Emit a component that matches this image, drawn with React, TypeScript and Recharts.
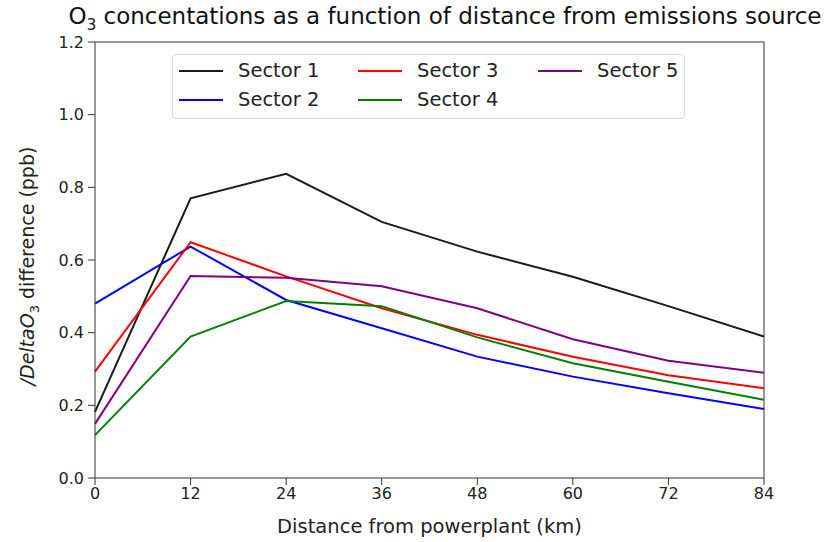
import React from "react";
import { LineChart, Line, XAxis, YAxis, Legend, Label, ReferenceLine } from "recharts";

const distances = [0, 12, 24, 36, 48, 60, 72, 84];
const sector1 = [0.182, 0.77, 0.837, 0.705, 0.623, 0.554, 0.473, 0.389];
const sector2 = [0.48, 0.637, 0.49, 0.412, 0.334, 0.279, 0.233, 0.19];
const sector3 = [0.293, 0.649, 0.555, 0.467, 0.394, 0.334, 0.283, 0.247];
const sector4 = [0.118, 0.389, 0.487, 0.473, 0.387, 0.316, 0.265, 0.215];
const sector5 = [0.149, 0.556, 0.551, 0.528, 0.467, 0.382, 0.323, 0.29];

const seriesNames = ["Sector 1", "Sector 2", "Sector 3", "Sector 4", "Sector 5"];
const seriesColors = ["#1a1a1a", "#0000ff", "#ff0000", "#008000", "#800080"];
const xTicks = [0, 12, 24, 36, 48, 60, 72, 84];
const yTicks = [0, 0.2, 0.4, 0.6, 0.8, 1.0, 1.2];

const allSeries = [sector1, sector2, sector3, sector4, sector5];
const rows = distances.map((d, i) => {
  const row: Record<string, number> = { x: d };
  seriesNames.forEach((name, j) => {
    row[name] = allSeries[j][i];
  });
  return row;
});

const FONT = "'DejaVu Sans', sans-serif";
const AXIS = "#333";

function SectorLegend() {
  return (
    <div
      style={{
        border: "1px solid #d6d6d6",
        borderRadius: 4,
        background: "#fff",
        boxSizing: "border-box",
        width: 513,
        height: 65,
        padding: "1px 0 0 6px",
        display: "grid",
        gridTemplateRows: "repeat(2, 29px)",
        gridTemplateColumns: "179px 180px 150px",
        gridAutoFlow: "column",
        fontFamily: FONT,
        fontSize: 19.5,
        color: "#222",
      }}
    >
      {seriesNames.map((name, i) => (
        <div key={name} style={{ display: "flex", alignItems: "center", whiteSpace: "nowrap" }}>
          <div style={{ width: 44, height: 2, background: seriesColors[i], marginRight: 15 }} />
          <span>{name}</span>
        </div>
      ))}
    </div>
  );
}

function YLabel(props: any) {
  const vb = props.viewBox || {};
  const cx = 34;
  const cy = vb.y + vb.height / 2 + 6;
  return (
    <text
      transform={`translate(${cx},${cy}) rotate(-90)`}
      textAnchor="middle"
      fontFamily={FONT}
      fontSize={19}
      fill="#222"
    >
      <tspan fontStyle="italic">/DeltaO</tspan>
      <tspan fontSize={13} dy={5}>3</tspan>
      <tspan dy={-5}> difference (ppb)</tspan>
    </text>
  );
}

export default function App() {
  return (
    <div style={{ position: "absolute", left: 0, top: 0, width: 827, height: 542, background: "#fff" }}>
      <div
        style={{
          position: "absolute",
          left: 0,
          top: 3,
          width: 890,
          textAlign: "center",
          fontFamily: FONT,
          fontSize: 23,
          color: "#111",
          whiteSpace: "nowrap",
        }}
      >
        O<sub style={{ fontSize: 15 }}>3</sub> concentations as a function of distance from emissions source
      </div>
      <LineChart
        width={827}
        height={542}
        data={rows}
        margin={{ top: 42, right: 63, bottom: 0, left: 25 }}
      >
        <XAxis
          dataKey="x"
          type="number"
          domain={[0, 84]}
          ticks={xTicks}
          height={64}
          stroke={AXIS}
          tickSize={7}
          tickMargin={3}
          tick={{ fill: "#222", fontSize: 16, fontFamily: FONT }}
          interval={0}
        >
          <Label
            value="Distance from powerplant (km)"
            position="insideBottom"
            offset={9}
            style={{ fill: "#222", fontSize: 19.5, fontFamily: FONT }}
          />
        </XAxis>
        <YAxis
          type="number"
          domain={[0, 1.2]}
          ticks={yTicks}
          width={70}
          stroke={AXIS}
          tickSize={7}
          tickMargin={4}
          tickFormatter={(v: number) => v.toFixed(1)}
          tick={{ fill: "#222", fontSize: 16, fontFamily: FONT }}
          interval={0}
        >
          <Label content={<YLabel />} />
        </YAxis>
        <ReferenceLine y={1.2} stroke={AXIS} strokeWidth={1} />
        <ReferenceLine x={84} stroke={AXIS} strokeWidth={1} />
        <Legend
          layout="vertical"
          align="center"
          verticalAlign="middle"
          content={() => <SectorLegend />}
          wrapperStyle={{ left: 172, top: 54, width: 513, height: 65 }}
        />
        {seriesNames.map((name, i) => (
          <Line
            key={name}
            dataKey={name}
            name={name}
            stroke={seriesColors[i]}
            strokeWidth={2}
            dot={false}
            type="linear"
            isAnimationActive={false}
          />
        ))}
      </LineChart>
    </div>
  );
}
